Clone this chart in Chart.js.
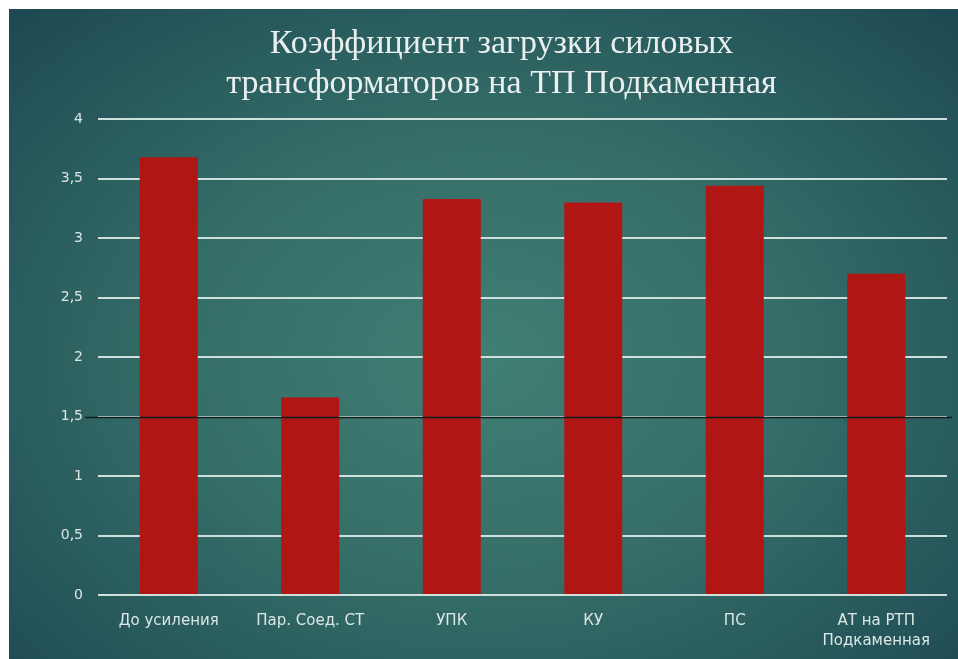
<!DOCTYPE html>
<html>
<head>
<meta charset="utf-8">
<script src="https://cdn.jsdelivr.net/npm/chart.js@4.4.1/dist/chart.umd.min.js"></script>
<style>
  html, body { margin: 0; padding: 0; background: #204d55; overflow: hidden; }
  #topStrip { position: fixed; left: 0; top: 0; width: 100%; height: 9px; background: #ffffff; }
  #leftStrip { position: fixed; left: 0; top: 0; width: 9px; height: 100%; background: #ffffff; }
  #wrap {
    position: fixed; left: 9px; top: 9px; right: 0; bottom: 0; min-width: 949px; min-height: 650px;
    background: radial-gradient(ellipse 70% 75% at 50% 54%, #407f74 0%, #356e68 45%, #26575b 80%, #1e4952 100%);
  }
  canvas { display: block; }
</style>
</head>
<body>
<div id="topStrip"></div><div id="leftStrip"></div>
<div id="wrap"><canvas id="c" width="949" height="650"></canvas></div>
<script>
const categories = ["До усиления", "Пар. Соед. СТ", "УПК", "КУ", "ПС", ["АТ на РТП", "Подкаменная"]];
const loadFactor = [3.68, 1.66, 3.33, 3.30, 3.44, 2.70];
const yTicks = [0, 0.5, 1, 1.5, 2, 2.5, 3, 3.5, 4];
const thresholdValue = 1.5;
const titleLines = ["Коэффициент загрузки силовых", "трансформаторов на ТП Подкаменная"];

const thresholdLine = {
  id: 'thresholdLine',
  afterLayout(chart) {
    if (chart.titleBlock) chart.titleBlock.left += 47;
  },
  afterDatasetsDraw(chart) {
    const { ctx, chartArea, scales } = chart;
    const y = Math.round(scales.y.getPixelForValue(thresholdValue)) + 0.5;
    ctx.save();
    ctx.strokeStyle = '#0e1c1e';
    ctx.lineWidth = 1.6;
    ctx.beginPath();
    ctx.moveTo(chartArea.left - 13, y);
    ctx.lineTo(chartArea.right + 5, y);
    ctx.stroke();
    ctx.restore();
  }
};

new Chart(document.getElementById('c'), {
  type: 'bar',
  data: {
    labels: categories,
    datasets: [{
      data: loadFactor,
      backgroundColor: '#b01614',
      borderWidth: 0,
      categoryPercentage: 1,
      barPercentage: 0.41
    }]
  },
  options: {
    responsive: false,
    animation: false,
    events: [],
    layout: { padding: { left: 0, right: 11, top: 0, bottom: 0 } },
    plugins: {
      legend: { display: false },
      tooltip: { enabled: false },
      title: {
        display: true,
        text: titleLines,
        color: '#e9f0ef',
        font: { family: 'Liberation Serif', size: 34, weight: 'normal', lineHeight: 1.18 },
        padding: { top: 15, bottom: 15 }
      }
    },
    scales: {
      x: {
        grid: { display: false, drawTicks: false },
        border: { display: false },
        ticks: {
          color: '#dbe7e5',
          font: { family: 'DejaVu Sans', size: 15, lineHeight: 1.33 },
          padding: 16,
          maxRotation: 0,
          autoSkip: false
        },
        afterFit(scale) { scale.height = 64; }
      },
      y: {
        min: 0, max: 4,
        afterBuildTicks(scale) { scale.ticks = yTicks.map(v => ({ value: v })); },
        grid: { color: '#cfe0dc', lineWidth: 2, drawTicks: false },
        border: { display: false },
        ticks: {
          color: '#dbe7e5',
          font: { family: 'DejaVu Sans', size: 14 },
          padding: 15,
          callback: v => String(v).replace('.', ',')
        },
        afterFit(scale) { scale.width = 89; }
      }
    }
  },
  plugins: [thresholdLine]
});
</script>
</body>
</html>
